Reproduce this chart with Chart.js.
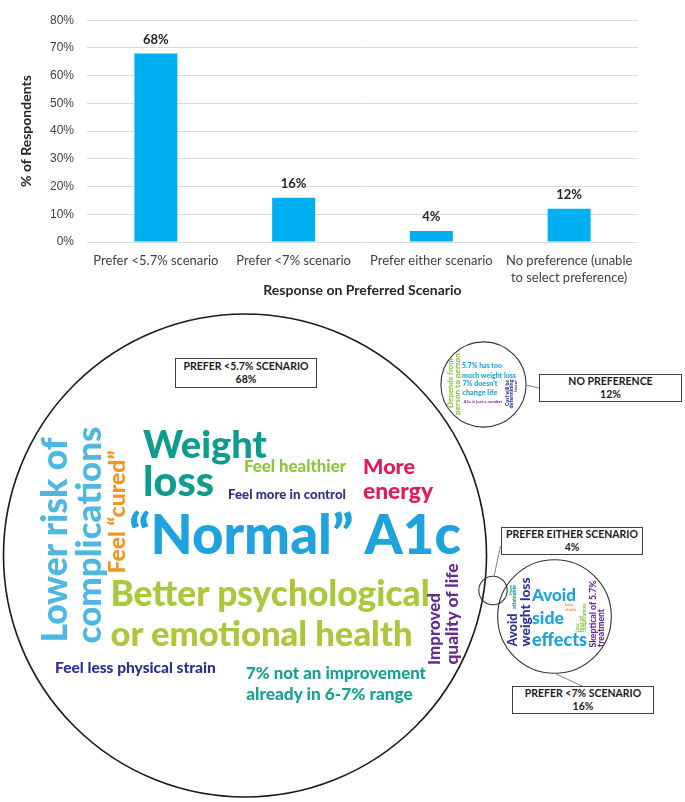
<!DOCTYPE html>
<html>
<head>
<meta charset="utf-8">
<title>Preferred scenario</title>
<script src="https://cdn.jsdelivr.net/npm/chart.js@4.4.1/dist/chart.umd.min.js"></script>
<style>
  html, body { margin: 0; padding: 0; background: #fff; }
  #page { position: relative; width: 685px; height: 802px; overflow: hidden; }
  #barWrap { position: absolute; left: 0; top: 0; width: 685px; height: 300px; }
  #bubbleWrap { position: absolute; left: 0; top: 300px; width: 685px; height: 502px; }
  #overlay { position: absolute; left: 0; top: 0; width: 685px; height: 802px; pointer-events: none; }
  .word { position: absolute; white-space: nowrap; line-height: 1; font-family: Lato, 'DejaVu Sans', sans-serif; font-weight: 900; }
  .box { position: absolute; box-sizing: border-box; border: 1px solid #404040; background: #fff;
         display: flex; flex-direction: column; justify-content: center; align-items: center;
         font-family: Lato, sans-serif; font-size: 10.5px; line-height: 13px; color: #1a1a1a; font-weight: 700; }
</style>
</head>
<body>
<div id="page">
  <div id="barWrap"><canvas id="barChart"></canvas></div>
  <div id="bubbleWrap"><canvas id="bubbleChart"></canvas></div>
  <div id="overlay"></div>
</div>
<script>
// --- data ---
const categories = ['Prefer <5.7% scenario', 'Prefer <7% scenario', 'Prefer either scenario', ['No preference (unable', 'to select preference)']];
const respondentPct = [68, 16, 4, 12];
const yTickValues = [0, 10, 20, 30, 40, 50, 60, 70, 80];
const boxTitles = ['PREFER <5.7% SCENARIO', 'PREFER <7% SCENARIO', 'PREFER EITHER SCENARIO', 'NO PREFERENCE'];

// --- layout of the bottom part (page pixels) ---
const pxPerPct = 241.5 / 68;                 // circle radius grows with the share
const bubbleCentres = [[245, 555.5], [554.5, 616.5], [493, 590.5], [483.5, 384.5]];
const boxRects = [[175, 358, 142, 30], [512, 686, 142, 28], [501, 527, 142, 28], [539, 374, 143, 28]];
const calloutSegments = [[556, 674, 582, 686], [500.5, 546, 494, 576.5], [526, 385, 539, 388]];

const TEAL = '#0E9C8E', TEAL2 = '#17A293', LGREEN = '#8DC63F', CRIMSON = '#E2195B', NAVY = '#2E3192',
      BLUE = '#1FA3DF', YGREEN = '#A9C83B', LBLUE = '#4DB8E2', ORANGE = '#F7941D', PURPLE = '#662D91', PURPLE2 = '#7F3F98';

// text, colour, centre x, centre y, length along the text, rotation
const cloudWords = [
  ['Weight', TEAL, 205, 443.5, 124, 0],
  ['loss', TEAL, 178.5, 481.5, 71, 0],
  ['Feel healthier', LGREEN, 295, 467, 102, 0],
  ['More', CRIMSON, 389, 466.5, 52, 0],
  ['energy', CRIMSON, 398, 492, 70, 0],
  ['Feel more in control', NAVY, 287, 495, 118, 0],
  ['\u201CNormal\u201D A1c', BLUE, 295, 535, 334, 0],
  ['Better psychological', YGREEN, 270, 593.5, 320, 0],
  ['or emotional health', YGREEN, 261.5, 633.5, 303, 0],
  ['Lower risk of', LBLUE, 55, 540, 206, -90],
  ['complications', LBLUE, 90, 534.5, 217, -90],
  ['Feel \u201Ccured\u201D', ORANGE, 116.5, 511.5, 123, -90],
  ['Feel less physical strain', NAVY, 135.5, 668, 161, 0],
  ['7% not an improvement', TEAL2, 336, 674, 180, 0],
  ['already in 6-7% range', TEAL2, 329.5, 694, 167, 0],
  ['Improved', PURPLE, 435, 629, 72, -90],
  ['quality of life', PURPLE, 452, 614, 102, -90],

  ['Depends from', LGREEN, 450, 383, 50, -90],
  ['person to person', LGREEN, 456.5, 384, 62, -90],
  ['5.7% has too', BLUE, 482, 366, 40, 0],
  ['much weight loss', BLUE, 489, 374.5, 54, 0],
  ['7% doesn\u2019t', BLUE, 479.5, 383, 35, 0],
  ['change life', BLUE, 479.5, 392, 35, 0],
  ['A1c is just a number', PURPLE2, 482.5, 401, 39, 0],
  ['Cost will be', NAVY, 506.5, 393, 26, -90],
  ['determining', NAVY, 510.5, 394, 29, -90],
  ['factor', NAVY, 514.5, 386, 12, -90],

  ['Avoid', NAVY, 513, 629.5, 33, -90],
  ['weight loss', NAVY, 524.5, 611.5, 69, -90],
  ['More', TEAL, 510.5, 590, 10, -90],
  ['attainable', TEAL, 514, 597, 24, -90],
  ['Avoid', BLUE, 554, 594.5, 44, 0],
  ['side', BLUE, 548, 618, 32, 0],
  ['effects', BLUE, 559.5, 639.5, 55, 0],
  ['Less', ORANGE, 569, 605, 8, 0],
  ['drastic', ORANGE, 570.5, 609.5, 11, 0],
  ['Less', LGREEN, 577, 627.5, 9, -90],
  ['fear of', LGREEN, 580.5, 623.5, 17, -90],
  ['complications', LGREEN, 584, 617.5, 29, -90],
  ['Skeptical of 5.7%', PURPLE, 593, 613.5, 67, -90],
  ['treatment', PURPLE, 600.5, 628, 38, -90]
];

Chart.defaults.font.family = 'Lato';
Chart.defaults.color = '#404040';
Chart.defaults.animation = false;

// value labels over the bars
const barValueLabels = {
  id: 'barValueLabels',
  afterDatasetsDraw(chart) {
    const ctx = chart.ctx;
    const meta = chart.getDatasetMeta(0);
    ctx.save();
    ctx.font = 'bold 13px Lato';
    ctx.fillStyle = '#262626';
    ctx.textAlign = 'center';
    ctx.textBaseline = 'middle';
    meta.data.forEach((bar, i) => ctx.fillText(respondentPct[i] + '%', bar.x, bar.y - 14));
    ctx.restore();
  }
};

new Chart(document.getElementById('barChart'), {
  type: 'bar',
  data: {
    labels: categories,
    datasets: [{
      data: respondentPct,
      backgroundColor: '#00B0F0',
      categoryPercentage: 1,
      barPercentage: 0.312
    }]
  },
  options: {
    responsive: true,
    maintainAspectRatio: false,
    events: [],
    layout: { padding: { left: 0, right: 47, top: 18, bottom: 0 } },
    plugins: { legend: { display: false }, tooltip: { enabled: false } },
    scales: {
      x: {
        grid: { display: false, drawTicks: false },
        border: { display: false },
        ticks: { padding: 10, font: { size: 13, lineHeight: 1.3 }, color: '#404040', maxRotation: 0, autoSkip: false },
        title: { display: true, text: 'Response on Preferred Scenario', color: '#262626',
                 font: { size: 14, weight: 'bold' }, padding: { top: 0, bottom: 1.6 } },
        afterFit: s => { s.height = 58; }
      },
      y: {
        min: 0, max: 80,
        grid: { color: '#D9D9D9', drawTicks: false },
        border: { display: false },
        ticks: { padding: 13, font: { family: "'Liberation Sans', Arial, sans-serif", size: 12 }, color: '#404040',
                 callback: v => v + '%' },
        afterBuildTicks: s => { s.ticks = yTickValues.map(v => ({ value: v })); },
        title: { display: true, text: '% of Respondents', color: '#262626',
                 font: { size: 14, weight: 'bold' }, padding: { top: 17.6, bottom: 0 } },
        afterFit: s => { s.width = 87; }
      }
    }
  },
  plugins: [barValueLabels]
});

// thin callout lines from the circles to their boxes
const calloutLines = {
  id: 'calloutLines',
  afterDatasetsDraw(chart) {
    const { ctx, scales: { x, y } } = chart;
    ctx.save();
    ctx.strokeStyle = '#808080';
    ctx.lineWidth = 1;
    calloutSegments.forEach(([x1, y1, x2, y2]) => {
      ctx.beginPath();
      ctx.moveTo(x.getPixelForValue(x1), y.getPixelForValue(y1));
      ctx.lineTo(x.getPixelForValue(x2), y.getPixelForValue(y2));
      ctx.stroke();
    });
    ctx.restore();
  }
};

new Chart(document.getElementById('bubbleChart'), {
  type: 'bubble',
  data: {
    datasets: [{
      data: respondentPct.map((v, i) => ({ x: bubbleCentres[i][0], y: bubbleCentres[i][1], r: v * pxPerPct })),
      backgroundColor: 'rgba(255,255,255,0)',
      borderColor: ['#1a1a1a', '#333333', '#333333', '#333333'],
      borderWidth: [1.6, 1.1, 1.1, 1.1],
      clip: false
    }]
  },
  options: {
    responsive: true,
    maintainAspectRatio: false,
    events: [],
    layout: { padding: 0, autoPadding: false },
    plugins: { legend: { display: false }, tooltip: { enabled: false } },
    scales: {
      x: { type: 'linear', min: 0, max: 685, display: false },
      y: { type: 'linear', min: 300, max: 802, reverse: true, display: false }
    }
  },
  plugins: [calloutLines]
});

// word cloud and boxes as real text
const overlay = document.getElementById('overlay');
const measureCtx = document.createElement('canvas').getContext('2d');
measureCtx.font = '900 100px Lato';

cloudWords.forEach(([text, colour, cx, cy, len, rot]) => {
  let fs = 100 * len / measureCtx.measureText(text).width;
  let k = 1;
  if (fs < 9) { k = fs / 9; fs = 9; }
  const el = document.createElement('span');
  el.className = 'word';
  el.textContent = text;
  el.style.color = colour;
  el.style.fontSize = fs + 'px';
  el.style.left = cx + 'px';
  el.style.top = cy + 'px';
  el.style.transform = `translate(-50%,-50%) rotate(${rot}deg) scale(${k}) translateY(-0.03em)`;
  overlay.appendChild(el);
});

boxRects.forEach(([l, t, w, h], i) => {
  const box = document.createElement('div');
  box.className = 'box';
  box.style.left = l + 'px';
  box.style.top = t + 'px';
  box.style.width = w + 'px';
  box.style.height = h + 'px';
  const a = document.createElement('div');
  a.textContent = boxTitles[i];
  const b = document.createElement('div');
  b.textContent = respondentPct[i] + '%';
  box.appendChild(a);
  box.appendChild(b);
  overlay.appendChild(box);
});
</script>
</body>
</html>
